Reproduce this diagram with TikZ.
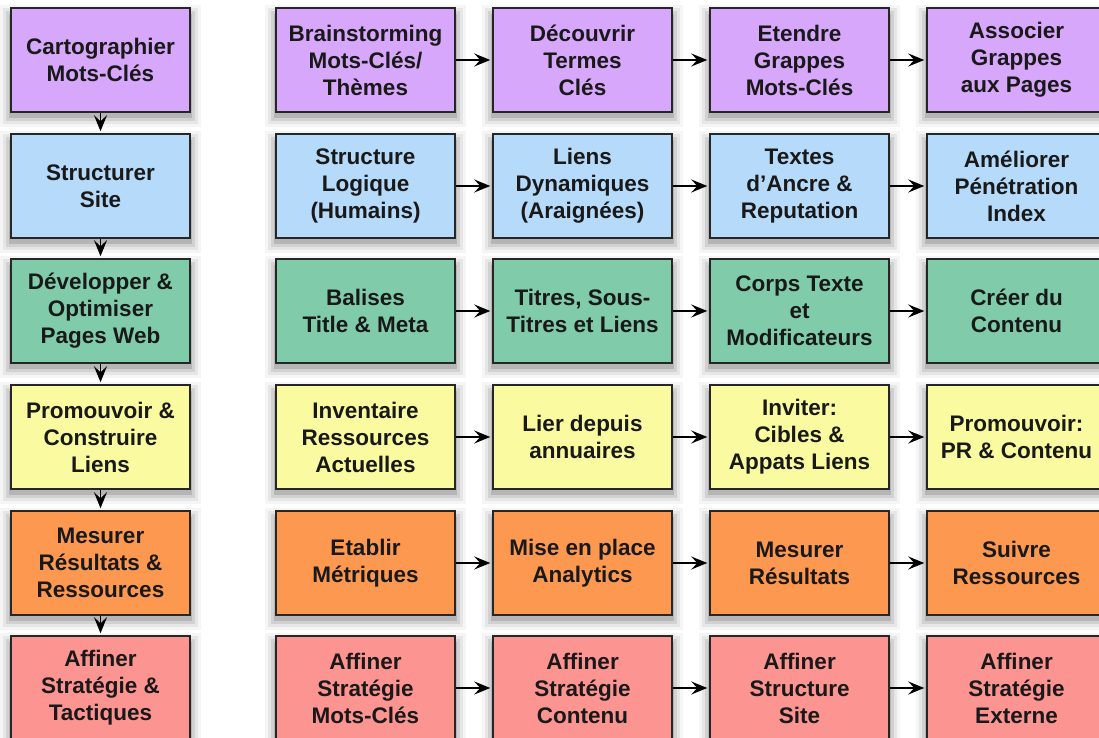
\documentclass[tikz,border=0pt]{standalone}
\usepackage{fontspec}
\setmainfont{Liberation Sans}
\usetikzlibrary{arrows.meta}
\pgfdeclarelayer{background}
\pgfsetlayers{background,main}
\definecolor{cpurple}{RGB}{214,167,250}
\definecolor{cblue}{RGB}{182,218,250}
\definecolor{cgreen}{RGB}{128,204,170}
\definecolor{cyellow}{RGB}{250,250,160}
\definecolor{corange}{RGB}{252,152,80}
\definecolor{cpink}{RGB}{252,148,145}
\tikzset{
  stepbox/.style={draw=black!85, line width=1.5pt, minimum width=179pt, minimum height=104pt,
    inner sep=0pt, align=center, font=\bfseries\fontsize{22.5}{27}\selectfont, text=black!90},
  conn/.style={draw=black, line width=1.5pt, shorten >=2pt,
    -{Stealth[length=16pt,width=13pt,inset=6pt]}},
  shadowlayer/.style={fill=black, opacity=#1},
}
\begin{document}
\begin{tikzpicture}[x=1pt,y=1pt]
\useasboundingbox (0,0) rectangle (1099,738);
% row 1
\node[stepbox, fill=cpurple] (l1) at (100.5,678) {Cartographier\\Mots-Clés};
\node[stepbox, fill=cpurple] (a1) at (365.5,678) {Brainstorming\\Mots-Clés/\\Thèmes};
\node[stepbox, fill=cpurple] (b1) at (582.5,678) {Découvrir\\Termes\\Clés};
\node[stepbox, fill=cpurple] (c1) at (799.5,678) {Etendre\\Grappes\\Mots-Clés};
\node[stepbox, fill=cpurple] (d1) at (1016.5,678) {Associer\\Grappes\\aux Pages};
% row 2
\node[stepbox, fill=cblue] (l2) at (100.5,552) {Structurer\\Site};
\node[stepbox, fill=cblue] (a2) at (365.5,552) {Structure\\Logique\\(Humains)};
\node[stepbox, fill=cblue] (b2) at (582.5,552) {Liens\\Dynamiques\\(Araignées)};
\node[stepbox, fill=cblue] (c2) at (799.5,552) {Textes\\d'Ancre \&\\Reputation};
\node[stepbox, fill=cblue] (d2) at (1016.5,552) {Améliorer\\Pénétration\\Index};
% row 3
\node[stepbox, fill=cgreen] (l3) at (100.5,427) {Développer \&\\Optimiser\\Pages Web};
\node[stepbox, fill=cgreen] (a3) at (365.5,427) {Balises\\Title \& Meta};
\node[stepbox, fill=cgreen] (b3) at (582.5,427) {Titres, Sous-\\Titres et Liens};
\node[stepbox, fill=cgreen] (c3) at (799.5,427) {Corps Texte\\et\\Modificateurs};
\node[stepbox, fill=cgreen] (d3) at (1016.5,427) {Créer du\\Contenu};
% row 4
\node[stepbox, fill=cyellow] (l4) at (100.5,301) {Promouvoir \&\\Construire\\Liens};
\node[stepbox, fill=cyellow] (a4) at (365.5,301) {Inventaire\\Ressources\\Actuelles};
\node[stepbox, fill=cyellow] (b4) at (582.5,301) {Lier depuis\\annuaires};
\node[stepbox, fill=cyellow] (c4) at (799.5,301) {Inviter:\\Cibles \&\\Appats Liens};
\node[stepbox, fill=cyellow] (d4) at (1016.5,301) {Promouvoir:\\PR \& Contenu};
% row 5
\node[stepbox, fill=corange] (l5) at (100.5,175) {Mesurer\\Résultats \&\\Ressources};
\node[stepbox, fill=corange] (a5) at (365.5,175) {Etablir\\Métriques};
\node[stepbox, fill=corange] (b5) at (582.5,175) {Mise en place\\Analytics};
\node[stepbox, fill=corange] (c5) at (799.5,175) {Mesurer\\Résultats};
\node[stepbox, fill=corange] (d5) at (1016.5,175) {Suivre\\Ressources};
% row 6
\node[stepbox, fill=cpink] (l6) at (100.5,50) {Affiner\\Stratégie \&\\Tactiques};
\node[stepbox, fill=cpink] (a6) at (365.5,50) {Affiner\\Stratégie\\Mots-Clés};
\node[stepbox, fill=cpink] (b6) at (582.5,50) {Affiner\\Stratégie\\Contenu};
\node[stepbox, fill=cpink] (c6) at (799.5,50) {Affiner\\Structure\\Site};
\node[stepbox, fill=cpink] (d6) at (1016.5,50) {Affiner\\Stratégie\\Externe};
% soft shadows
\begin{pgfonlayer}{background}
\fill[white] (0,0) rectangle (1099,738);
\foreach \c in {l,a,b,c,d}{
  \foreach \r in {1,...,6}{
    \foreach \d/\o in {10/0.04,7/0.06,4/0.09,1/0.13}{
      \fill[shadowlayer=\o] ([xshift={-\d*1pt}, yshift={-(\d+4)*1pt}]\c\r.south west)
        rectangle ([xshift={\d*1pt}, yshift={(\d-8)*1pt}]\c\r.north east);
    }
  }
}
\end{pgfonlayer}
% vertical arrows
\foreach \i/\j in {1/2,2/3,3/4,4/5,5/6}{
  \draw[conn] (l\i.south) -- (l\j.north);
}
% horizontal arrows
\foreach \r in {1,...,6}{
  \draw[conn] (a\r.east) -- (b\r.west);
  \draw[conn] (b\r.east) -- (c\r.west);
  \draw[conn] (c\r.east) -- (d\r.west);
}
\end{tikzpicture}
\end{document}
